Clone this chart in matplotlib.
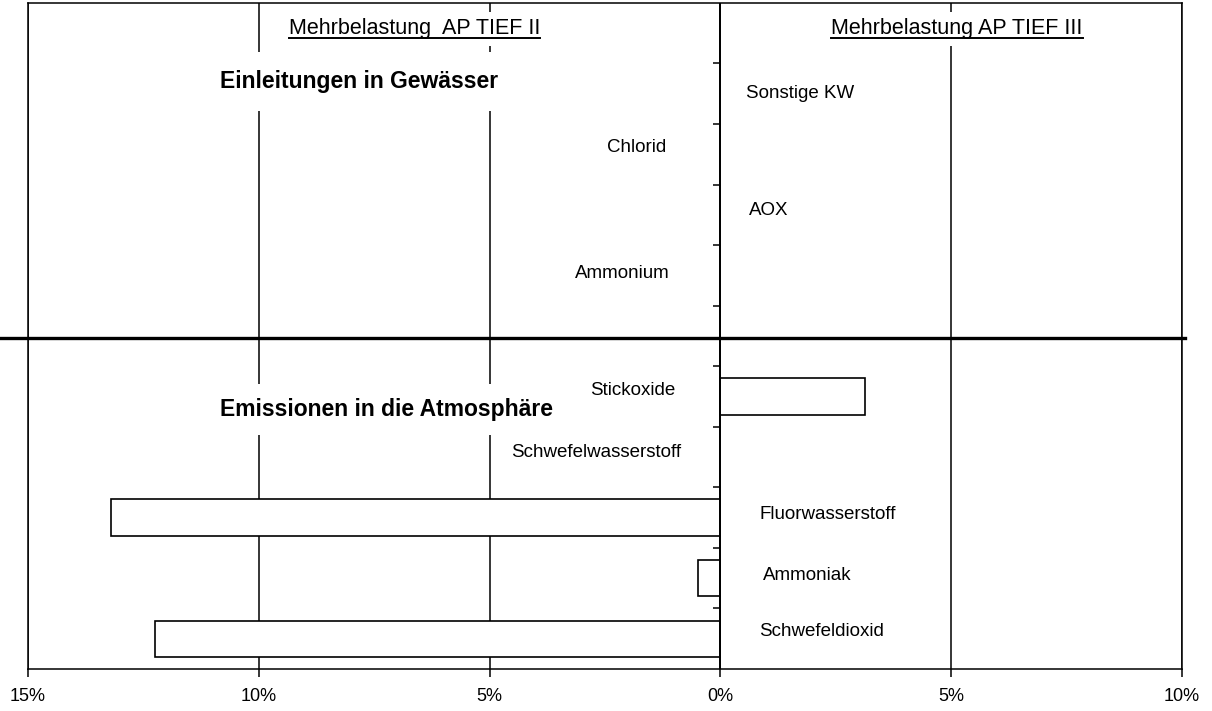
import matplotlib
matplotlib.use("Agg")
import matplotlib.pyplot as plt
from matplotlib.lines import Line2D

plt.rcParams['font.family'] = ['Liberation Sans', 'DejaVu Sans']

# rows from top to bottom (row 0 and row 5 are empty)
categories = ['', 'Sonstige KW', 'Chlorid', 'AOX', 'Ammonium', '',
              'Stickoxide', 'Schwefelwasserstoff', 'Fluorwasserstoff',
              'Ammoniak', 'Schwefeldioxid']
values = [0, 0, 0, 0, 0, 0, 3.13, 0, -13.21, -0.48, -12.24]

xticks = [-15, -10, -5, 0, 5, 10]
xticklabels = ['15%', '10%', '5%', '0%', '5%', '10%']

header_left = 'Mehrbelastung  AP TIEF II'
header_right = 'Mehrbelastung AP TIEF III'
group_top = 'Einleitungen in Gewässer'
group_bottom = 'Emissionen in die Atmosphäre'

# placement of the category labels (x in %, small vertical nudge in rows)
label_x = [0, 0.56, -1.17, 0.63, -1.1, 0, -0.97, -0.85, 0.85, 0.93, 0.85]
label_dy = [0, 0.0, -0.12, -0.08, -0.04, 0, -0.1, -0.08, -0.05, -0.05, -0.12]

fig = plt.figure(figsize=(12.12, 7.11), dpi=100)
ax = fig.add_axes([0.0231, 0.059, 0.9521, 0.9369])

rows = list(range(len(categories)))
bar_rows = [r for r in rows if values[r] != 0]
ax.barh(bar_rows, [values[r] for r in bar_rows], height=0.6, color='white',
        edgecolor='black', linewidth=1.2, zorder=2)

ax.set_xlim(-15, 10)
ax.set_ylim(10.5, -0.5)
ax.set_axisbelow(True)
ax.grid(axis='x', color='black', linewidth=1.1)

ax.set_xticks(xticks)
ax.set_xticklabels(xticklabels, fontsize=13)
ax.tick_params(axis='x', direction='out', length=6, width=1.1, pad=8)
ax.set_yticks([])
for s in ax.spines.values():
    s.set_linewidth(1.1)

# value axis on the 0% line, small ticks between the categories
ax.axvline(0, color='black', linewidth=1.4, zorder=3)
ax.hlines([r + 0.5 for r in rows[:-1]], -0.15, 0, color='black',
          linewidth=1.1, zorder=3)

# separator between water and air emissions
ax.axhline(5.03, xmin=-0.025, xmax=1.003, color='black', linewidth=2.4,
           clip_on=False, zorder=4)

for r, name in enumerate(categories):
    if not name:
        continue
    ha = 'left' if label_x[r] > 0 else 'right'
    ax.text(label_x[r], r + label_dy[r], name, ha=ha, va='center',
            fontsize=13.5)

bb = dict(facecolor='white', edgecolor='none', pad=5)
t1 = ax.text(-6.63, -0.07, header_left, ha='center', va='center',
             fontsize=15.5, bbox=bb, zorder=3.5)
t2 = ax.text(5.13, -0.07, header_right, ha='center', va='center',
             fontsize=15.5, bbox=bb, zorder=3.5)
ax.text(-10.83, 0.8, group_top, ha='left', va='center', fontsize=16.5,
        fontweight='bold', bbox=dict(facecolor='white', edgecolor='none', pad=13),
        zorder=3.5)
ax.text(-10.83, 6.22, group_bottom, ha='left', va='center', fontsize=16.5,
        fontweight='bold', bbox=dict(facecolor='white', edgecolor='none', pad=10),
        zorder=3.5)

# underline the two headers
fig.canvas.draw()
inv = fig.transFigure.inverted()
for t in (t1, t2):
    ext = t.get_window_extent()
    (x0, y0), (x1, y1) = inv.transform([(ext.x0, ext.y0 + 1), (ext.x1, ext.y0 + 1)])
    fig.add_artist(Line2D([x0, x1], [y0, y1], color='black', linewidth=1.4,
                          zorder=5))

fig.savefig('out.png', dpi=100)
